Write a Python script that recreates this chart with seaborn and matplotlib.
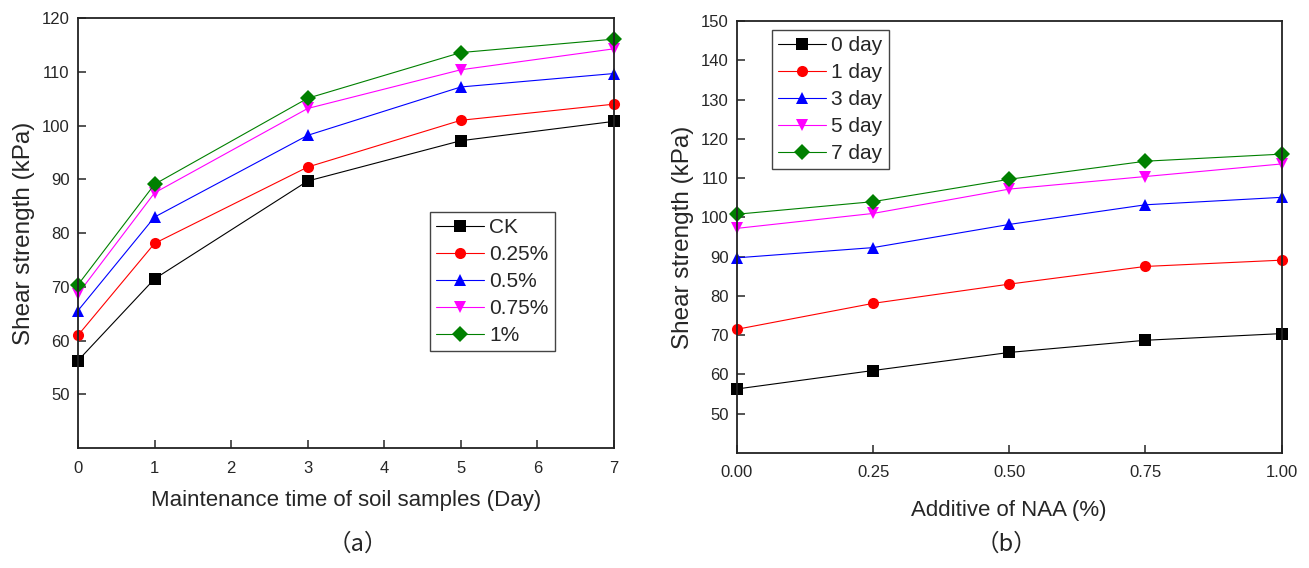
import numpy as np
import pandas as pd
import matplotlib
matplotlib.use("Agg")
import matplotlib.pyplot as plt
import seaborn as sns

# -------------------------
# Data (shear strength, kPa)
# -------------------------
days = [0, 1, 3, 5, 7]
naa = [0.0, 0.25, 0.5, 0.75, 1.0]

ck = [56.3, 71.5, 89.7, 97.2, 100.8]
naa_025 = [61.0, 78.1, 92.3, 101.0, 104.0]
naa_05 = [65.6, 83.0, 98.2, 107.2, 109.7]
naa_075 = [68.7, 87.5, 103.2, 110.4, 114.3]
naa_1 = [70.4, 89.1, 105.1, 113.6, 116.1]

conc_labels = ["CK", "0.25%", "0.5%", "0.75%", "1%"]
day_labels = ["0 day", "1 day", "3 day", "5 day", "7 day"]

colors = ["#000000", "#ff0000", "#0000ff", "#ff00ff", "#008000"]
markers = ["s", "o", "^", "v", "D"]

sns.set_style("ticks")
plt.rcParams["font.family"] = ["Liberation Sans", "DejaVu Sans"]

series = [ck, naa_025, naa_05, naa_075, naa_1]

# long tables for seaborn
rows_a = []
for lab, vals in zip(conc_labels, series):
    for d, v in zip(days, vals):
        rows_a.append({"day": d, "group": lab, "value": v})
df_a = pd.DataFrame(rows_a)

rows_b = []
for j, lab in enumerate(day_labels):
    for i, x in enumerate(naa):
        rows_b.append({"naa": x, "group": lab, "value": series[i][j]})
df_b = pd.DataFrame(rows_b)

fig = plt.figure(figsize=(13.09, 5.68), dpi=100)
ax1 = fig.add_axes([0.0596, 0.211, 0.4094, 0.757])
ax2 = fig.add_axes([0.563, 0.2025, 0.416, 0.7605])


def draw(ax, df, xcol, labels, loc, anchor):
    sns.lineplot(
        data=df, x=xcol, y="value", hue="group", style="group",
        hue_order=labels, style_order=labels,
        palette=colors, markers=markers, dashes=False,
        linewidth=0.8, markersize=8, markeredgewidth=0,
        ax=ax
    )
    for ln in ax.lines:
        ln.set_clip_on(False)
    for s in ax.spines.values():
        s.set_linewidth(1.3)
        s.set_color("#222222")
    ax.tick_params(axis="y", direction="in", length=6, width=1.1, labelsize=12, pad=6)
    ax.tick_params(axis="x", direction="in", length=6, width=1.1, labelsize=12, pad=9)
    ax.set_ylabel("Shear strength (kPa)", fontsize=17.5, labelpad=5)
    leg = ax.legend(loc=loc, bbox_to_anchor=anchor, fontsize=15,
                    frameon=True, fancybox=False,
                    handlelength=2.3, borderpad=0.3, labelspacing=0.38,
                    handletextpad=0.25, borderaxespad=0)
    leg.get_frame().set_edgecolor("#444444")
    leg.get_frame().set_linewidth(1.0)
    leg.get_frame().set_alpha(1)
    return leg


draw(ax1, df_a, "day", conc_labels, "upper left", (0.657, 0.549))
ax1.set_xlim(0, 7)
ax1.set_ylim(40, 120)
ax1.set_xticks(range(0, 8))
ax1.set_yticks(range(50, 121, 10))
ax1.set_xlabel("Maintenance time of soil samples (Day)", fontsize=16, labelpad=10)

draw(ax2, df_b, "naa", day_labels, "upper left", (0.064, 0.979))
ax2.set_xlim(0, 1)
ax2.set_ylim(40, 150)
ax2.set_xticks(naa)
ax2.set_xticklabels(["0.00", "0.25", "0.50", "0.75", "1.00"])
ax2.set_yticks(range(50, 151, 10))
ax2.set_xlabel("Additive of NAA (%)", fontsize=16, labelpad=14)

fig.text(0.273, 0.03, "（a）", fontsize=17, ha="center",
         family=["Noto Sans CJK SC", "DejaVu Sans"])
fig.text(0.769, 0.03, "（b）", fontsize=17, ha="center",
         family=["Noto Sans CJK SC", "DejaVu Sans"])

plt.savefig("out.png", dpi=100)
